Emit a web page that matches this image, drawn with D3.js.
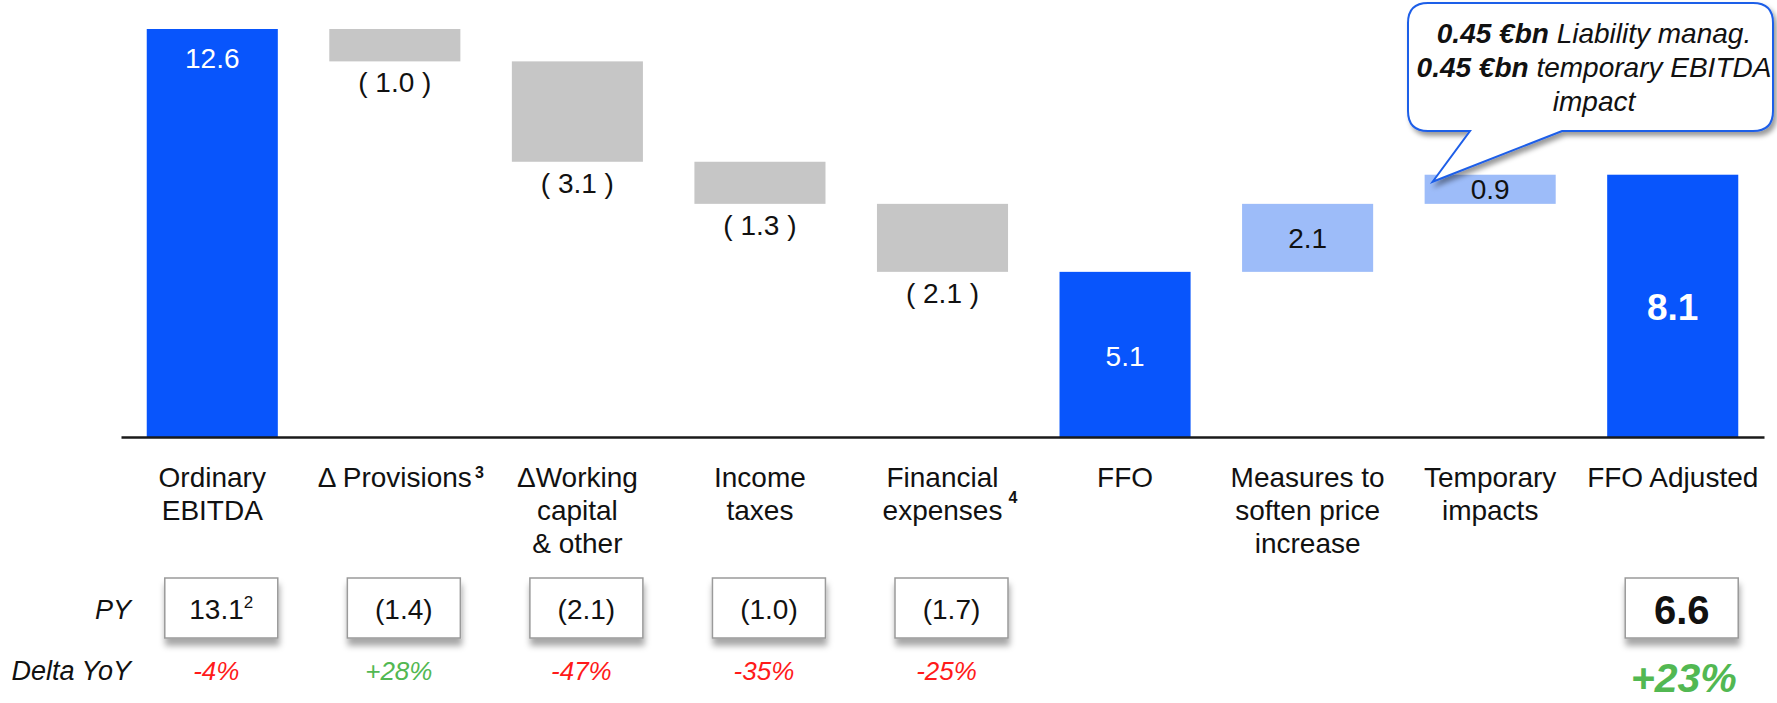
<!DOCTYPE html>
<html lang="en">
<head>
<meta charset="UTF-8">
<title>FFO bridge</title>
<style>
  body { margin: 0; background: #fff; }
  svg text { font-family: Arial, "Liberation Sans", sans-serif; }
</style>
<script src="https://cdn.jsdelivr.net/npm/d3@7/dist/d3.min.js"></script>
</head>
<body>
<div id="chart"></div>
<script>
// bridge data, €bn
const categories = ["Ordinary EBITDA", "Δ Provisions", "ΔWorking capital & other", "Income taxes",
  "Financial expenses", "FFO", "Measures to soften price increase", "Temporary impacts", "FFO Adjusted"];
const labelLines = [["Ordinary", "EBITDA"], ["Δ Provisions"], ["ΔWorking", "capital", "& other"],
  ["Income", "taxes"], ["Financial", "expenses"], ["FFO"], ["Measures to", "soften price", "increase"],
  ["Temporary", "impacts"], ["FFO Adjusted"]];
const footnotes = [null, "3", null, null, "4", null, null, null, null];
const values = [12.6, -1.0, -3.1, -1.3, -2.1, 5.1, 2.1, 0.9, 8.1];
const isTotal = [true, false, false, false, false, true, false, false, true];

// previous year row + delta
const pyValues = ["13.1", "(1.4)", "(2.1)", "(1.0)", "(1.7)", null, null, null, "6.6"];
const pyNotes = ["2", null, null, null, null, null, null, null, null];
const deltaYoY = ["-4%", "+28%", "-47%", "-35%", "-25%", null, null, null, "+23%"];

const calloutLines = [["0.45 €bn", " Liability manag."], ["0.45 €bn", " temporary EBITDA"], ["", "impact"]];

const W = 1777, H = 703;
const BLUE = "#0855fc", GREY = "#c6c6c6", LIGHT = "#9dbcf9";

const svg = d3.select("#chart").append("svg")
  .attr("width", W).attr("height", H);

const defs = svg.append("defs");
defs.append("filter").attr("id", "boxShadow")
  .attr("x", "-20%").attr("y", "-20%").attr("width", "140%").attr("height", "160%")
  .append("feDropShadow")
  .attr("dx", 1).attr("dy", 7).attr("stdDeviation", 3)
  .attr("flood-color", "#000").attr("flood-opacity", 0.35);
defs.append("filter").attr("id", "calloutShadow")
  .attr("x", "-10%").attr("y", "-10%").attr("width", "130%").attr("height", "140%")
  .append("feDropShadow")
  .attr("dx", 3).attr("dy", 4).attr("stdDeviation", 2.5)
  .attr("flood-color", "#000").attr("flood-opacity", 0.4);

// running totals for the waterfall
let run = 0;
const steps = values.map((v, i) => {
  let lo, hi;
  if (isTotal[i]) { lo = 0; hi = v; run = v; }
  else { const start = run; run += v; lo = Math.min(start, run); hi = Math.max(start, run); }
  return { i, cat: categories[i], v, lo, hi, total: isTotal[i] };
});

const x = d3.scaleBand()
  .domain(categories)
  .range([121, 1764])
  .paddingInner(0.282)
  .paddingOuter(0.141);

const y = d3.scaleLinear()
  .domain([0, d3.max(values)])
  .range([437, 29]);

const bw = x.bandwidth();
const cx = c => x(c) + bw / 2;

// bars
svg.selectAll(".bar")
  .data(steps)
  .enter().append("rect")
    .attr("class", "bar")
    .attr("x", d => x(d.cat))
    .attr("y", d => y(d.hi))
    .attr("width", bw)
    .attr("height", d => y(d.lo) - y(d.hi))
    .attr("fill", d => d.total ? BLUE : (d.v < 0 ? GREY : LIGHT));

// baseline axis
const axis = svg.append("g")
  .attr("transform", `translate(0, ${y(0)})`)
  .call(d3.axisBottom(x).tickSize(0).tickFormat(""));
axis.select(".domain").attr("stroke", "#1a1a1a").attr("stroke-width", 2.5);

// value labels
svg.selectAll(".val")
  .data(steps)
  .enter().append("text")
    .attr("class", "val")
    .attr("x", d => cx(d.cat))
    .attr("y", d => {
      if (d.total && d.i === 0) return y(d.hi) + 39;
      if (d.total) return (y(d.hi) + y(d.lo)) / 2 + (d.i === 8 ? 14 : 12);
      if (d.v < 0) return y(d.lo) + 31;
      return (y(d.hi) + y(d.lo)) / 2 + 10;
    })
    .attr("text-anchor", "middle")
    .attr("font-size", d => d.i === 8 ? 37 : 28)
    .attr("font-weight", d => d.i === 8 ? "bold" : "normal")
    .attr("fill", d => d.total ? "#fff" : "#111")
    .text(d => d.v < 0 ? `( ${Math.abs(d.v).toFixed(1)} )` : d.v.toFixed(1));

// category labels
const lineY = [487, 520, 553];
categories.forEach((c, i) => {
  let last;
  labelLines[i].forEach((ln, k) => {
    last = svg.append("text")
      .attr("x", cx(c)).attr("y", lineY[k])
      .attr("text-anchor", "middle")
      .attr("font-size", 28).attr("fill", "#111")
      .text(ln);
  });
  if (footnotes[i]) {
    const len = last.node().getComputedTextLength();
    const k = labelLines[i].length - 1;
    const lift = i === 4 ? 17 : 9;
    svg.append("text")
      .attr("x", cx(c) + len / 2 + (i === 4 ? 6 : 3))
      .attr("y", lineY[k] - lift)
      .attr("font-size", 16).attr("font-weight", "bold").attr("fill", "#111")
      .text(footnotes[i]);
  }
});

// PY boxes
const boxW = 113, boxH = 60, boxTop = 578, boxShift = 9;
svg.append("text").attr("x", 131).attr("y", 619).attr("text-anchor", "end")
  .attr("font-size", 27).attr("font-style", "italic").attr("fill", "#111").text("PY");
svg.append("text").attr("x", 131).attr("y", 680).attr("text-anchor", "end")
  .attr("font-size", 27).attr("font-style", "italic").attr("fill", "#111").text("Delta YoY");

categories.forEach((c, i) => {
  if (pyValues[i] === null) return;
  const bx = cx(c) + boxShift;
  const big = i === categories.length - 1;
  svg.append("rect")
    .attr("x", bx - boxW / 2).attr("y", boxTop)
    .attr("width", boxW).attr("height", boxH)
    .attr("fill", "#fff").attr("stroke", "#9a9a9a").attr("stroke-width", 1.5)
    .attr("filter", "url(#boxShadow)");
  const t = svg.append("text")
    .attr("x", bx).attr("y", big ? 624 : 619)
    .attr("text-anchor", "middle")
    .attr("font-size", big ? 40 : 28)
    .attr("font-weight", big ? "bold" : "normal")
    .attr("fill", "#111");
  t.append("tspan").text(pyValues[i]);
  if (pyNotes[i]) t.append("tspan").attr("font-size", 17).attr("dy", -11).text(pyNotes[i]);

  if (deltaYoY[i]) {
    const up = deltaYoY[i].startsWith("+");
    svg.append("text")
      .attr("x", bx - (big ? -2 : 5)).attr("y", big ? 692 : 680)
      .attr("text-anchor", "middle")
      .attr("font-size", big ? 41 : 26)
      .attr("font-style", "italic")
      .attr("font-weight", big ? "bold" : "normal")
      .attr("fill", up ? "#52b852" : "#ff1a1a")
      .text(deltaYoY[i]);
  }
});

// callout pointing at the temporary impacts bar
const L = 1408, R = 1773, T = 3, B = 131, r = 20;
const tipX = x(categories[7]) + 8, tipY = y(d3.sum(values.slice(5, 8))) + 7;
const bubble = `M${L + r},${T} H${R - r} Q${R},${T} ${R},${T + r} V${B - r} Q${R},${B} ${R - r},${B}
  H1562 L${tipX},${tipY} L1470,${B} H${L + r} Q${L},${B} ${L},${B - r} V${T + r} Q${L},${T} ${L + r},${T} Z`;
svg.append("path")
  .attr("d", bubble)
  .attr("fill", "#fff").attr("stroke", "#1f5ee8").attr("stroke-width", 2)
  .attr("filter", "url(#calloutShadow)");

calloutLines.forEach((ln, k) => {
  const t = svg.append("text")
    .attr("x", 1594).attr("y", 43 + k * 34)
    .attr("text-anchor", "middle")
    .attr("font-size", 28).attr("font-style", "italic").attr("fill", "#111");
  if (ln[0]) t.append("tspan").attr("font-weight", "bold").text(ln[0]);
  t.append("tspan").text(ln[1]);
});
</script>
</body>
</html>
